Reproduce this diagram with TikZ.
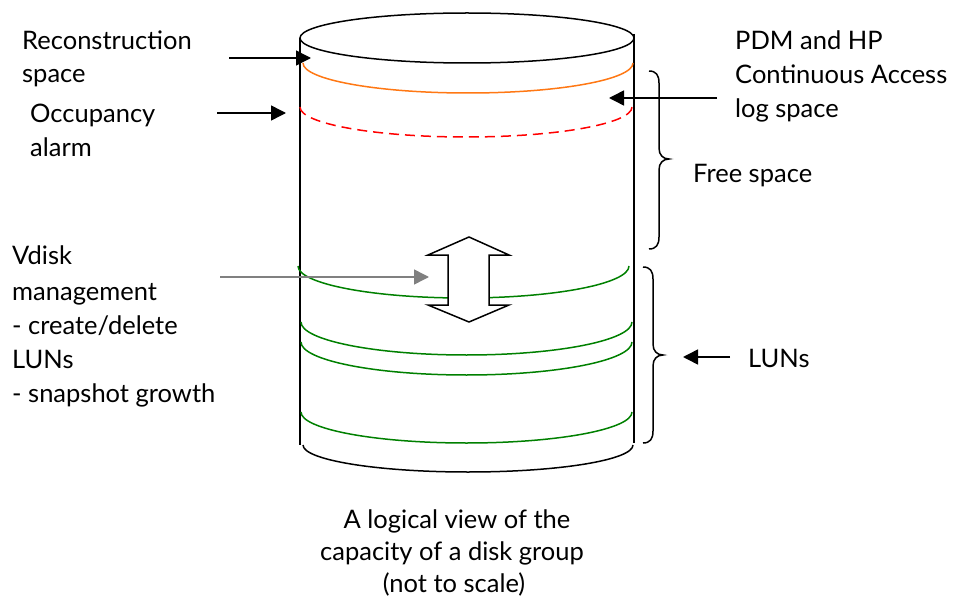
\documentclass[tikz,border=0pt]{standalone}
\usepackage{fontspec}
\setmainfont{Lato}
\usetikzlibrary{arrows.meta}
\definecolor{logorange}{RGB}{255,120,20}
\definecolor{alarmred}{RGB}{255,0,0}
\definecolor{lungreen}{RGB}{0,128,0}
\definecolor{mgmtgray}{RGB}{128,128,128}
\tikzset{
  label/.style={inner sep=0pt, font=\fontsize{25.5}{34}\selectfont},
  wall/.style={line width=1.5pt, black},
  lunband/.style={line width=1.5pt, lungreen},
  pointer/.style={line width=1.5pt, -{Triangle[length=15pt,width=15pt]}},
  bracket/.style={line width=1.5pt, black},
}
\begin{document}
\begin{tikzpicture}[x=1pt, y=-1pt]
\useasboundingbox (0,0) rectangle (953,604);

% cylinder body
\draw[wall] (467,38) ellipse[x radius=167, y radius=25];
\draw[wall] (300,38) -- (300,445);
\draw[wall] (634,34) -- (634,443);
\draw[wall] (303,445) arc[start angle=180, end angle=0, x radius=165, y radius=27];

% reserved space bands
\draw[line width=1.5pt, logorange] (303,63) arc[start angle=180, end angle=0, x radius=165, y radius=30];
\draw[line width=1.5pt, alarmred, dash pattern=on 10pt off 6pt] (300,107) arc[start angle=180, end angle=0, x radius=166, y radius=30];

% LUN bands
\draw[lunband] (298,266) arc[start angle=180, end angle=0, x radius=165.5, y radius=32];
\draw[lunband] (301,322) arc[start angle=180, end angle=0, x radius=165.5, y radius=33];
\draw[lunband] (301,342) arc[start angle=180, end angle=0, x radius=165.5, y radius=33];
\draw[lunband] (301,412) arc[start angle=180, end angle=0, x radius=165.5, y radius=31];

% grow/shrink double arrow
\draw[line width=1.5pt, fill=white]
  (469,237) -- (509,255) -- (489,255) -- (489,305) -- (509,305) -- (469,322)
  -- (428,305) -- (448,305) -- (448,255) -- (428,255) -- cycle;

% braces
\draw[bracket] (649,71) .. controls (656,71) and (659,75) .. (659,83) -- (659,148)
  .. controls (659,155) and (663,159) .. (669,159)
  .. controls (663,159) and (659,163) .. (659,170) -- (659,237)
  .. controls (659,245) and (656,249) .. (649,249);
\draw[bracket] (643,267) .. controls (650,267) and (653,271) .. (653,279) -- (653,344)
  .. controls (653,351) and (657,355) .. (663,355)
  .. controls (657,355) and (653,359) .. (653,366) -- (653,431)
  .. controls (653,439) and (650,443) .. (643,443);

% labels
\node[label, anchor=base west] (recon1) at (22,50) {Reconstruction};
\node[label, anchor=base west] (recon2) at (22,83) {space};
\node[label, anchor=base west] (occ1) at (30,123) {Occupancy};
\node[label, anchor=base west] (occ2) at (30,157) {alarm};
\node[label, anchor=base west] (vd1) at (12,265) {Vdisk};
\node[label, anchor=base west] (vd2) at (12,300) {management};
\node[label, anchor=base west] (vd3) at (12,334) {- create/delete};
\node[label, anchor=base west] (vd4) at (12,368) {LUNs};
\node[label, anchor=base west] (vd5) at (12,402) {- snapshot growth};
\node[label, anchor=base west] (pdm1) at (735,50) {PDM and HP};
\node[label, anchor=base west] (pdm2) at (735,84) {Continuous Access};
\node[label, anchor=base west] (pdm3) at (735,118) {log space};
\node[label, anchor=base west] (free) at (693,183) {Free space};
\node[label, anchor=base west] (luns) at (748,367) {LUNs};
\node[label, anchor=base] (cap1) at (457,528) {A logical view of the};
\node[label, anchor=base] (cap2) at (452,560) {capacity of a disk group};
\node[label, anchor=base] (cap3) at (454,592) {(not to scale)};

% pointers
\coordinate (reconA) at (229,58);   \coordinate (reconB) at (311,58);
\coordinate (occA) at (217,113);    \coordinate (occB) at (286,113);
\coordinate (pdmA) at (717,98);     \coordinate (pdmB) at (609,98);
\coordinate (lunA) at (730,357);    \coordinate (lunB) at (683,357);
\coordinate (vdA) at (220,277);     \coordinate (vdB) at (429,277);
\draw[pointer] (reconA) -- (reconB);
\draw[pointer] (occA) -- (occB);
\draw[pointer] (pdmA) -- (pdmB);
\draw[pointer] (lunA) -- (lunB);
\draw[pointer, mgmtgray] (vdA) -- (vdB);
\end{tikzpicture}
\end{document}
